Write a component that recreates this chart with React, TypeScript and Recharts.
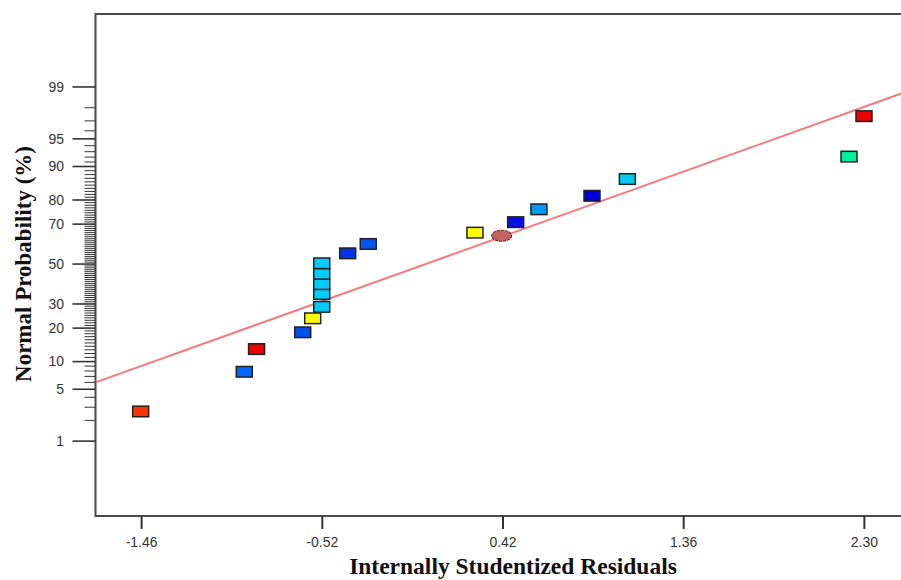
import React from "react";
import {
  ScatterChart,
  Scatter,
  XAxis,
  YAxis,
  ReferenceArea,
  ReferenceLine,
} from "recharts";

// ---- data ----
const residuals = [
  -1.465, -0.926, -0.862, -0.622, -0.57, -0.523, -0.523, -0.523, -0.523,
  -0.523, -0.388, -0.281, 0.274, 0.486, 0.607, 0.883, 1.067, 2.22, 2.298,
];
const probabilities = [
  2.64, 7.85, 13.2, 18.5, 23.8, 28.7, 34.7, 39.6, 44.9, 50.4, 55.6, 60.4, 66.0,
  70.9, 76.4, 81.5, 86.8, 92.1, 97.4,
];
const pointColors = [
  "#ff3300", "#0066ff", "#f00000", "#0050f0", "#ffff00", "#00ccff", "#00ccff",
  "#00ccff", "#00ccff", "#00ccff", "#0033ee", "#0055ee", "#ffff00", "#0010e8",
  "#0099ff", "#0000dd", "#00ccee", "#00ee99", "#ee0000",
];
const centerResidual = [0.413];
const centerProbability = [64.5];

const fitLineResidual = [-1.7, 2.54];
const fitLineProbability = [6.0, 98.88];

const xTickValues = [-1.46, -0.52, 0.42, 1.36, 2.3];
const yMajorPercents = [1, 5, 10, 20, 30, 50, 70, 80, 90, 95, 99];
const yMinorPercents = Array.from({ length: 99 }, (_, i) => i + 1);

const X_DOMAIN: [number, number] = [-1.7, 2.54];
const Z_DOMAIN: [number, number] = [-3.31, 3.285];

// inverse normal CDF (probability axis transform)
function probit(p: number): number {
  const a = [-3.969683028665376e1, 2.209460984245205e2, -2.759285104469687e2, 1.38357751867269e2, -3.066479806614716e1, 2.506628277459239];
  const b = [-5.447609879822406e1, 1.615858368580409e2, -1.556989798598866e2, 6.680131188771972e1, -1.328068155288572e1];
  const c = [-7.784894002430293e-3, -3.223964580411365e-1, -2.400758277161838, -2.549732539343734, 4.374664141464968, 2.938163982698783];
  const d = [7.784695709041462e-3, 3.224671290700398e-1, 2.445134137142996, 3.754408661907416];
  const pl = 0.02425;
  const ph = 1 - pl;
  if (p < pl) {
    const q = Math.sqrt(-2 * Math.log(p));
    return (((((c[0] * q + c[1]) * q + c[2]) * q + c[3]) * q + c[4]) * q + c[5]) /
      ((((d[0] * q + d[1]) * q + d[2]) * q + d[3]) * q + 1);
  }
  if (p <= ph) {
    const q = p - 0.5;
    const r = q * q;
    return ((((((a[0] * r + a[1]) * r + a[2]) * r + a[3]) * r + a[4]) * r + a[5]) * q) /
      (((((b[0] * r + b[1]) * r + b[2]) * r + b[3]) * r + b[4]) * r + 1);
  }
  const q = Math.sqrt(-2 * Math.log(1 - p));
  return -(((((c[0] * q + c[1]) * q + c[2]) * q + c[3]) * q + c[4]) * q + c[5]) /
    ((((d[0] * q + d[1]) * q + d[2]) * q + d[3]) * q + 1);
}

const pointData = residuals.map((r, i) => ({ x: r, z: probit(probabilities[i] / 100), i }));
const centerData = centerResidual.map((r, i) => ({ x: r, z: probit(centerProbability[i] / 100) }));
const fitSegment = fitLineResidual.map((r, i) => ({ x: r, y: probit(fitLineProbability[i] / 100) }));
const yTicksZ = yMinorPercents.map((p) => probit(p / 100));

const SANS = "'Liberation Sans', Arial, sans-serif";
const SERIF = "'Liberation Serif', 'Times New Roman', serif";

function YTick(props: any) {
  const { x, y, payload } = props;
  const v = payload.value;
  let best = yMinorPercents[0];
  let bd = Infinity;
  for (const p of yMinorPercents) {
    const dd = Math.abs(probit(p / 100) - v);
    if (dd < bd) {
      bd = dd;
      best = p;
    }
  }
  const major = yMajorPercents.includes(best);
  return (
    <g>
      <line x1={x - (major ? 23 : 11)} x2={x} y1={y} y2={y} stroke="#333" strokeWidth={major ? 1.6 : 1} />
      {major && (
        <text x={x - 31.5} y={y} dy="0.35em" textAnchor="end" fontSize={14} fontFamily={SANS} fill="#333">
          {best}
        </text>
      )}
    </g>
  );
}

function SquareMarker(props: any) {
  const { cx, cy, payload } = props;
  if (cx == null || cy == null) return <g />;
  return (
    <rect x={cx - 8} y={cy - 5.3} width={16} height={10.6} fill={pointColors[payload.i]} stroke="#222" strokeWidth={1.5} />
  );
}

function EllipseMarker(props: any) {
  const { cx, cy } = props;
  if (cx == null || cy == null) return <g />;
  return <ellipse cx={cx} cy={cy} rx={10} ry={5.5} fill="#c46262" stroke="#6a3a3a" strokeWidth={1.2} strokeDasharray="3 1" />;
}

export default function App() {
  return (
    <div style={{ position: "fixed", left: 0, top: 0, width: 901, height: 580, overflow: "hidden", background: "#fff" }}>
      <ScatterChart width={920} height={580} margin={{ top: 14, right: 9.5, left: 0, bottom: 0 }}>
        <XAxis
          type="number"
          dataKey="x"
          domain={X_DOMAIN}
          allowDataOverflow
          ticks={xTickValues}
          interval={0}
          tickFormatter={(v: number) => v.toFixed(2)}
          axisLine={false}
          tickLine={{ stroke: "#333", strokeWidth: 2 }}
          tickSize={13}
          tickMargin={8}
          height={64}
          tick={{ fontSize: 14, fill: "#333", fontFamily: SANS }}
          label={{
            content: () => (
              <text x={513} y={574} textAnchor="middle" fontSize={23.5} fontWeight="bold" fontFamily={SERIF} fill="#111">
                Internally Studentized Residuals
              </text>
            ),
          }}
        />
        <YAxis
          type="number"
          dataKey="z"
          domain={Z_DOMAIN}
          allowDataOverflow
          ticks={yTicksZ}
          interval={0}
          width={95.5}
          axisLine={false}
          tickLine={false}
          tickSize={0}
          tickMargin={0}
          tick={(p: any) => <YTick {...p} />}
          label={{
            content: () => (
              <text
                x={31}
                y={264}
                transform="rotate(-90 31 264)"
                textAnchor="middle"
                fontSize={23}
                fontWeight="bold"
                fontFamily={SERIF}
                fill="#111"
              >
                Normal Probability (%)
              </text>
            ),
          }}
        />
        <ReferenceArea
          x1={X_DOMAIN[0]}
          x2={X_DOMAIN[1]}
          y1={Z_DOMAIN[0]}
          y2={Z_DOMAIN[1]}
          fill="none"
          fillOpacity={0}
          stroke="#4a4a4a"
          strokeWidth={2}
          ifOverflow="visible"
        />
        <ReferenceLine segment={fitSegment} stroke="#f47a7a" strokeWidth={2} ifOverflow="hidden" />
        <Scatter data={pointData} shape={(p: any) => <SquareMarker {...p} />} isAnimationActive={false} />
        <Scatter data={centerData} shape={(p: any) => <EllipseMarker {...p} />} isAnimationActive={false} />
      </ScatterChart>
    </div>
  );
}
